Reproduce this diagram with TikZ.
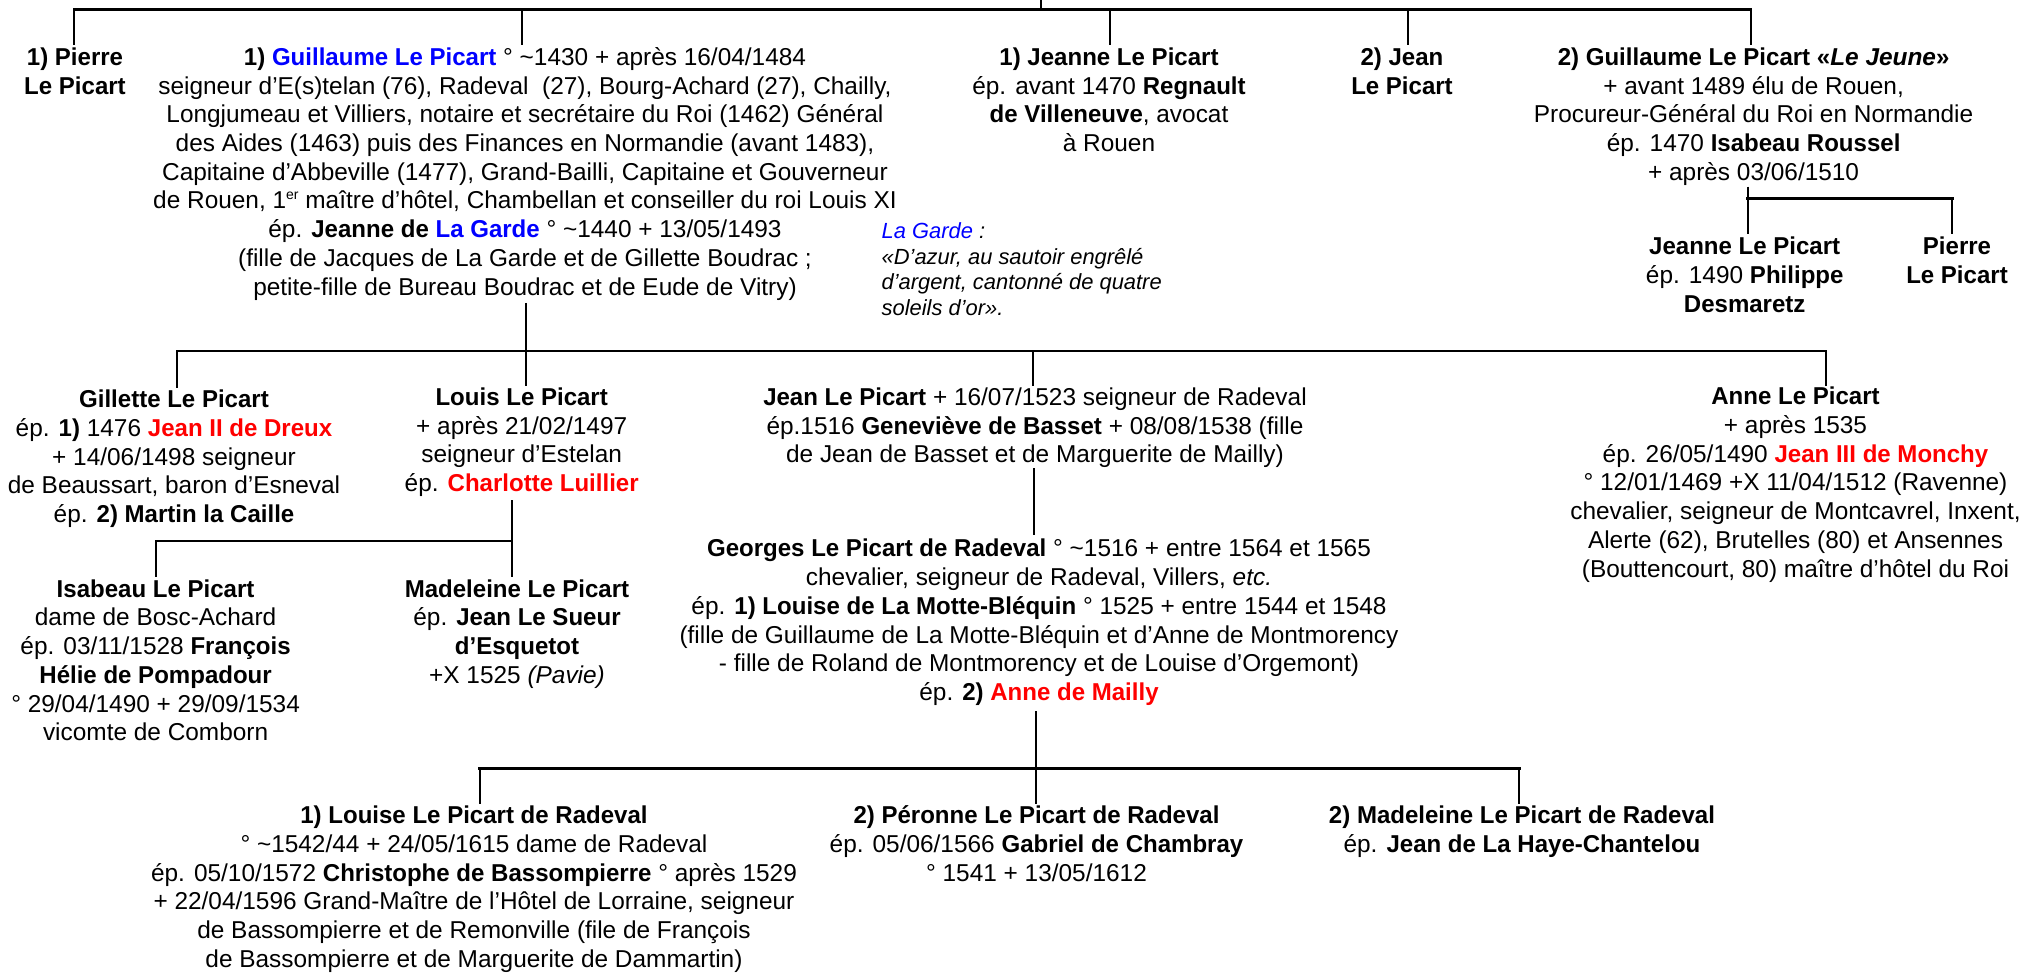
\documentclass[tikz,border=0pt]{standalone}
\usepackage{fontspec}
\setmainfont[BoldFeatures={FakeStretch=0.985}]{Liberation Sans}
\definecolor{nblue}{RGB}{0,0,255}
\definecolor{nred}{RGB}{255,0,0}
\newcommand{\bl}[1]{\textcolor{nblue}{#1}}
\newcommand{\rd}[1]{\textcolor{nred}{#1}}
\newcommand{\bo}[1]{\textbf{#1}}
\newcommand{\tl}{\textasciitilde}
\newcommand{\st}{\rule{0pt}{21pt}}
\newcommand{\stn}{\rule{0pt}{18pt}}
\tikzset{
  x=1pt,y=-1pt,
  person/.style={anchor=north,inner sep=0pt,align=center,
    font=\fontsize{24.4}{28.7}\selectfont},
  note/.style={anchor=north west,inner sep=0pt,align=left,
    font=\fontsize{21.9}{25.9}\selectfont\itshape},
  bus/.style={line width=2.6pt,line cap=rect},
  drop/.style={line width=2pt},
}
\begin{document}
\begin{tikzpicture}
\useasboundingbox (0,0) rectangle (2019,973);
% --- first row
\node[person] (pierre1) at (75,44.3) {\st\bo{1) Pierre}\\\bo{Le Picart}};
\node[person] (guillaume) at (525,44.3) {\st\bo{1) \bl{Guillaume Le Picart}} ° \tl1430 + après 16/04/1484\\
seigneur d’E(s)telan (76), Radeval\ \ (27), Bourg-Achard (27), Chailly,\\
Longjumeau et Villiers, notaire et secrétaire du Roi (1462) Général\\
des Aides (1463) puis des Finances en Normandie (avant 1483),\\
Capitaine d’Abbeville (1477), Grand-Bailli, Capitaine et Gouverneur\\
de Rouen, 1\raisebox{9pt}{\fontsize{14}{14}\selectfont er} maître d’hôtel, Chambellan et conseiller du roi Louis XI\\
ép. \bo{Jeanne de \bl{La Garde}} ° \tl1440 + 13/05/1493\\
(fille de Jacques de La Garde et de Gillette Boudrac ;\\
petite-fille de Bureau Boudrac et de Eude de Vitry)};
\node[person] (jeanneA) at (1109,44.3) {\st\bo{1) Jeanne Le Picart}\\ép. avant 1470 \bo{Regnault}\\\bo{de Villeneuve}, avocat\\à Rouen};
\node[person] (jeanA) at (1402,44.3) {\st\bo{2) Jean}\\\bo{Le Picart}};
\node[person] (guillaumeB) at (1753.6,44.3) {\st\bo{2) Guillaume Le Picart «\textit{Le Jeune}»}\\+ avant 1489 élu de Rouen,\\Procureur-Général du Roi en Normandie\\ép. 1470 \bo{Isabeau Roussel}\\+ après 03/06/1510};
\node[note] (garde) at (881.5,220) {\stn\bl{La Garde} :\\«D’azur, au sautoir engrêlé\\d’argent, cantonné de quatre\\soleils d’or».};
\node[person] (jeanneB) at (1744.7,233.6) {\st\bo{Jeanne Le Picart}\\ép. 1490 \bo{Philippe}\\\bo{Desmaretz}};
\node[person] (pierreB) at (1957,233.6) {\st\bo{Pierre}\\\bo{Le Picart}};
% --- second row
\node[person] (gillette) at (174,386.6) {\st\bo{Gillette Le Picart}\\ép. \bo{1)} 1476 \rd{\bo{Jean II de Dreux}}\\+ 14/06/1498 seigneur\\de Beaussart, baron d’Esneval\\ép. \bo{2) Martin la Caille}};
\node[person] (louis) at (521.7,384.3) {\st\bo{Louis Le Picart}\\+ après 21/02/1497\\seigneur d’Estelan\\ép. \rd{\bo{Charlotte Luillier}}};
\node[person] (jean) at (1035,384.3) {\st\bo{Jean Le Picart} + 16/07/1523 seigneur de Radeval\\ép.1516 \bo{Geneviève de Basset} + 08/08/1538 (fille\\de Jean de Basset et de Marguerite de Mailly)};
\node[person] (anne) at (1795.5,383.6) {\st\bo{Anne Le Picart}\\+ après 1535\\ép. 26/05/1490 \rd{\bo{Jean III de Monchy}}\\° 12/01/1469 +X 11/04/1512 (Ravenne)\\chevalier, seigneur de Montcavrel, Inxent,\\Alerte (62), Brutelles (80) et Ansennes\\(Bouttencourt, 80) maître d’hôtel du Roi};
% --- third row
\node[person] (isabeau) at (155.6,576) {\st\bo{Isabeau Le Picart}\\dame de Bosc-Achard\\ép. 03/11/1528 \bo{François}\\\bo{Hélie de Pompadour}\\° 29/04/1490 + 29/09/1534\\vicomte de Comborn};
\node[person] (madeleineA) at (517,576) {\st\bo{Madeleine Le Picart}\\ép. \bo{Jean Le Sueur}\\\bo{d’Esquetot}\\+X 1525 {\itshape(Pavie)}};
\node[person] (georges) at (1039,535.7) {\st\bo{Georges Le Picart de Radeval} ° \tl1516 + entre 1564 et 1565\\chevalier, seigneur de Radeval, Villers, \textit{etc.}\\ép. \bo{1) Louise de La Motte-Bléquin} ° 1525 + entre 1544 et 1548\\(fille de Guillaume de La Motte-Bléquin et d’Anne de Montmorency\\- fille de Roland de Montmorency et de Louise d’Orgemont)\\ép. \bo{2) \rd{Anne de Mailly}}};
% --- fourth row
\node[person] (louise) at (474,802.5) {\st\bo{1) Louise Le Picart de Radeval}\\° \tl1542/44 + 24/05/1615 dame de Radeval\\ép. 05/10/1572 \bo{Christophe de Bassompierre} ° après 1529\\+ 22/04/1596 Grand-Maître de l’Hôtel de Lorraine, seigneur\\de Bassompierre et de Remonville (file de François\\de Bassompierre et de Marguerite de Dammartin)};
\node[person] (peronne) at (1036.5,802.5) {\st\bo{2) Péronne Le Picart de Radeval}\\ép. 05/06/1566 \bo{Gabriel de Chambray}\\° 1541 + 13/05/1612};
\node[person] (madeleineB) at (1522,802.5) {\st\bo{2) Madeleine Le Picart de Radeval}\\ép. \bo{Jean de La Haye-Chantelou}};
% --- junction coordinates on the buses
\coordinate (topIn) at (1041,0);
\coordinate (t0) at (1041,9.3);
\coordinate (t1) at (74,9.3);
\coordinate (t2) at (521.7,9.3);
\coordinate (t3) at (1110,9.3);
\coordinate (t4) at (1407.7,9.3);
\coordinate (t5) at (1750.6,9.3);
\coordinate (g1) at (1747.7,198.7);
\coordinate (g2) at (1952.4,198.7);
\coordinate (s0) at (526,351);
\coordinate (s1) at (177.3,351);
\coordinate (s3) at (1032.5,351);
\coordinate (s4) at (1826,351);
\coordinate (l0) at (511.5,541);
\coordinate (l1) at (156,541);
\coordinate (j0) at (1033.8,400);
\coordinate (b0) at (1035.7,768.5);
\coordinate (b1) at (479.5,768.5);
\coordinate (b3) at (1519.4,768.5);
% --- top family
\draw[bus] (t1) -- (t5);
\draw[drop] (topIn) -- (t0);
\draw[drop,shorten >=-0.7pt] (t1) -- (t1 |- pierre1.north);
\draw[drop,shorten >=-0.7pt] (t2) -- (t2 |- guillaume.north);
\draw[drop,shorten >=-0.7pt] (t3) -- (t3 |- jeanneA.north);
\draw[drop,shorten >=-0.7pt] (t4) -- (t4 |- jeanA.north);
\draw[drop,shorten >=-0.7pt] (t5) -- (t5 |- guillaumeB.north);
% --- children of Guillaume le Jeune
\draw[bus] (g1) -- (g2);
\draw[drop,shorten <=1pt,shorten >=-0.4pt] (g1 |- guillaumeB.south) -- (g1 |- jeanneB.north);
\draw[drop,shorten >=-0.4pt] (g2) -- (g2 |- pierreB.north);
% --- children of Guillaume
\draw[bus] (s1) -- (s4);
\draw[drop,shorten <=2.5pt,shorten >=-1.7pt] (s0 |- guillaume.south) -- (s0 |- louis.north);
\draw[drop,shorten >=-1.4pt] (s1) -- (s1 |- gillette.north);
\draw[drop,shorten >=-1.7pt] (s3) -- (s3 |- jean.north);
\draw[drop,shorten >=-2.4pt] (s4) -- (s4 |- anne.north);
% --- children of Louis
\draw[bus] (l1) -- (l0);
\draw[drop,shorten <=3.5pt,shorten >=-0.7pt] (l0 |- louis.south) -- (l0 |- madeleineA.north);
\draw[drop,shorten >=-0.7pt] (l1) -- (l1 |- isabeau.north);
% --- Jean to Georges
\draw[drop,shorten >=0.7pt] (j0 |- jean.south) -- (j0 |- georges.north);
% --- children of Georges
\draw[bus] (b1) -- (b3);
\draw[drop,shorten <=5.7pt,shorten >=-1pt] (b0 |- georges.south) -- (b0 |- peronne.north);
\draw[drop,shorten >=-1pt] (b1) -- (b1 |- louise.north);
\draw[drop,shorten >=-1pt] (b3) -- (b3 |- madeleineB.north);
\end{tikzpicture}
\end{document}
